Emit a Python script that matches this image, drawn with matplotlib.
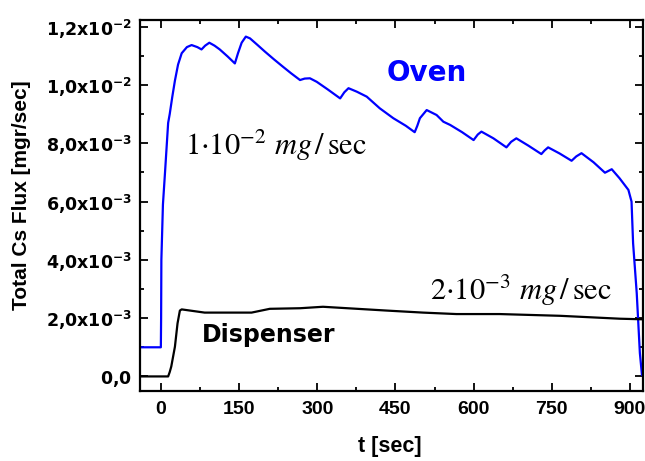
import matplotlib
matplotlib.use("Agg")
import matplotlib.pyplot as plt
from matplotlib.ticker import MultipleLocator, FixedLocator

# ---- data (time in s, flux in mg/s) ----
oven_t = [-40, 0, 0.5, 1, 4, 8, 11, 14, 17, 22, 27, 33, 40, 50, 59, 70, 78, 85, 93,
          103, 113, 128, 142, 148, 155, 163, 171, 185, 200, 217, 234, 250, 267, 276,
          286, 299, 320, 344, 352, 360, 376, 395, 420, 446, 470, 487, 492, 497, 510,
          529, 542, 555, 578, 600, 608, 615, 638, 663, 672, 682, 705, 730, 736, 743,
          765, 788, 797, 807, 830, 852, 865, 880, 897, 903, 906, 913, 919, 923, 926]
oven_v = [1.0, 1.0, 2.0, 4.0, 5.9, 7.0, 7.85, 8.7, 9.0, 9.6, 10.15, 10.7, 11.09, 11.3,
          11.37, 11.3, 11.22, 11.35, 11.45, 11.35, 11.22, 10.98, 10.74, 11.09, 11.45,
          11.66, 11.6, 11.38, 11.14, 10.88, 10.63, 10.4, 10.17, 10.22, 10.23, 10.11,
          9.85, 9.54, 9.75, 9.89, 9.77, 9.6, 9.2, 8.86, 8.6, 8.38, 8.6, 8.86, 9.14,
          8.97, 8.74, 8.63, 8.38, 8.11, 8.3, 8.4, 8.17, 7.86, 8.05, 8.17, 7.92, 7.63,
          7.75, 7.86, 7.65, 7.40, 7.55, 7.66, 7.35, 6.99, 7.11, 6.8, 6.40, 6.00, 4.57,
          2.85, 0.80, 0.05, 0.0]
oven_v = [v * 1e-3 for v in oven_v]

disp_t = [-40, 14, 17, 20, 27, 32, 36.5, 40, 84, 174, 209, 267, 311, 433, 503, 567,
          650, 766, 881, 925]
disp_v = [0.0, 0.0, 0.15, 0.34, 1.02, 1.82, 2.26, 2.30, 2.19, 2.19, 2.32, 2.34, 2.39,
          2.26, 2.19, 2.14, 2.14, 2.08, 1.98, 1.96]
disp_v = [v * 1e-3 for v in disp_v]

xticks = [0, 150, 300, 450, 600, 750, 900]
yticks = [0.0, 2e-3, 4e-3, 6e-3, 8e-3, 1.0e-2, 1.2e-2]
ytick_labels = [r'$\mathbf{0{,}0}$',
                r'$\mathbf{2{,}0x10^{-3}}$',
                r'$\mathbf{4{,}0x10^{-3}}$',
                r'$\mathbf{6{,}0x10^{-3}}$',
                r'$\mathbf{8{,}0x10^{-3}}$',
                r'$\mathbf{1{,}0x10^{-2}}$',
                r'$\mathbf{1{,}2x10^{-2}}$']

fig = plt.figure(figsize=(6.45, 4.61), dpi=100)
ax = fig.add_axes([140/645, 1 - 391/461, (643 - 140)/645, (391 - 20)/461])

ax.plot(oven_t, oven_v, color='#0000ff', lw=1.6, solid_joinstyle='round')
ax.plot(disp_t, disp_v, color='black', lw=1.6, solid_joinstyle='round')

ax.set_xlim(-40, 925)
ax.set_ylim(-0.5e-3, 1.223e-2)

ax.xaxis.set_major_locator(FixedLocator(xticks))
ax.xaxis.set_minor_locator(MultipleLocator(75))
ax.yaxis.set_major_locator(FixedLocator(yticks))
ax.yaxis.set_minor_locator(MultipleLocator(1e-3))
ax.set_xticklabels([str(x) for x in xticks], fontfamily='Liberation Sans',
                   fontweight='bold', fontsize=14)
ax.set_yticklabels(ytick_labels, fontsize=12.5)

ax.tick_params(which='both', direction='in', top=True, right=True, width=1.3)
ax.tick_params(which='major', length=6)
ax.tick_params(which='minor', length=3)
ax.tick_params(axis='y', pad=6)
ax.tick_params(axis='x', pad=7)
for s in ax.spines.values():
    s.set_linewidth(1.6)

ax.text(433, 10.15e-3, 'Oven', color='#0000ff', fontsize=20, fontweight='bold',
        fontfamily='DejaVu Sans', ha='left', va='baseline')
ax.text(78, 1.17e-3, 'Dispenser', color='black', fontsize=17, fontweight='bold',
        fontfamily='DejaVu Sans', ha='left', va='baseline')
ax.text(46, 7.6e-3, r'$1{\cdot}10^{-2}\ mg\,/\,\mathrm{sec}$', fontsize=22,
        math_fontfamily='stix', ha='left', va='baseline')
ax.text(516, 2.62e-3, r'$2{\cdot}10^{-3}\ mg\,/\,\mathrm{sec}$', fontsize=22,
        math_fontfamily='stix', ha='left', va='baseline')

fig.text(22/645, 1 - 195/461, 'Total Cs Flux [mgr/sec]', rotation=90,
         fontfamily='Liberation Sans', fontweight='bold', fontsize=15,
         ha='center', va='center')
fig.text(390/645, 1 - 446/461, 't [sec]', fontfamily='Liberation Sans',
         fontweight='bold', fontsize=15.5, ha='center', va='center')

fig.savefig('out.png', dpi=100)
